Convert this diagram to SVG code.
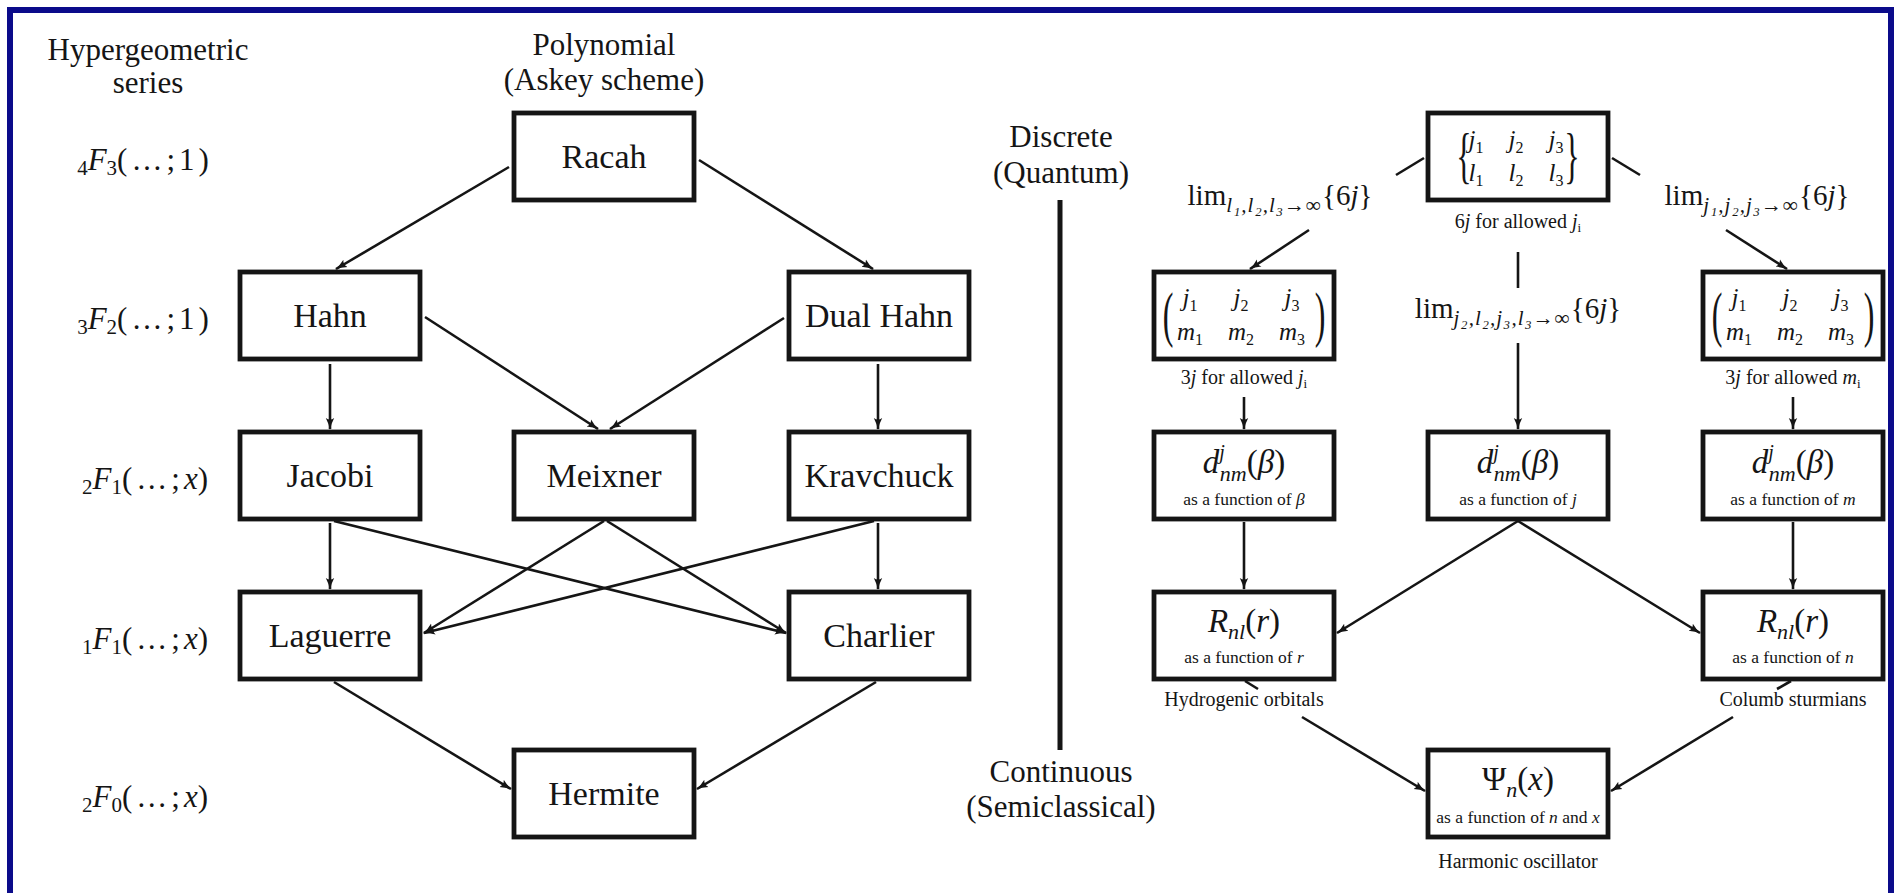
<svg xmlns="http://www.w3.org/2000/svg" width="1899" height="893" viewBox="0 0 1899 893">
<defs>
<style>
.t{font-family:"Liberation Serif","DejaVu Serif",serif;fill:#151515}
.hdr{font-size:31px}
.bl{font-size:34px}
.mx{font-size:25px}
.mid{font-size:20px}
.sm{font-size:17.5px}
.fm{font-size:33px}
.it{font-style:italic}
.box{fill:#fff;stroke:#151515;stroke-width:4.8}
.conn{stroke:#151515;stroke-width:2.6;fill:none}
.arr{marker-end:url(#ah)}
.lim{font-size:29px}
.limsub{font-size:21px;font-style:italic;letter-spacing:1px}
</style>
<marker id="ah" viewBox="0 0 12 10" refX="11" refY="5" markerWidth="12" markerHeight="10" markerUnits="userSpaceOnUse" orient="auto">
<path d="M0,0.8 Q6,4 12,5 Q6,6 0,9.2 Q3,5 0,0.8z" fill="#151515"/>
</marker>
</defs>
<rect width="1899" height="893" fill="#fff"/>
<path d="M10,893 V10 H1891 V893" fill="none" stroke="#0b0b8a" stroke-width="6"/>

<g id="headers" class="t hdr" text-anchor="middle">
<text x="148" y="60">Hypergeometric</text>
<text x="148" y="93">series</text>
<text x="604" y="55">Polynomial</text>
<text x="604" y="90">(Askey scheme)</text>
<text x="1061" y="147">Discrete</text>
<text x="1061" y="183">(Quantum)</text>
<text x="1061" y="782">Continuous</text>
<text x="1061" y="817">(Semiclassical)</text>
</g>

<g id="series-labels" class="t hdr" text-anchor="middle">
<text x="145" y="170"><tspan font-size="21" dy="5">4</tspan><tspan class="it" dy="-5">F</tspan><tspan font-size="21" dy="5">3</tspan><tspan dy="-5" letter-spacing="4">(…;1)</tspan></text>
<text x="145" y="329"><tspan font-size="21" dy="5">3</tspan><tspan class="it" dy="-5">F</tspan><tspan font-size="21" dy="5">2</tspan><tspan dy="-5" letter-spacing="4">(…;1)</tspan></text>
<text x="145" y="489"><tspan font-size="21" dy="5">2</tspan><tspan class="it" dy="-5">F</tspan><tspan font-size="21" dy="5">1</tspan><tspan dy="-5" letter-spacing="4">(…;</tspan><tspan class="it">x</tspan>)</text>
<text x="145" y="649"><tspan font-size="21" dy="5">1</tspan><tspan class="it" dy="-5">F</tspan><tspan font-size="21" dy="5">1</tspan><tspan dy="-5" letter-spacing="4">(…;</tspan><tspan class="it">x</tspan>)</text>
<text x="145" y="807"><tspan font-size="21" dy="5">2</tspan><tspan class="it" dy="-5">F</tspan><tspan font-size="21" dy="5">0</tspan><tspan dy="-5" letter-spacing="4">(…;</tspan><tspan class="it">x</tspan>)</text>
</g>

<path id="divider" d="M1060,200 V750" stroke="#151515" stroke-width="5"/>

<g id="connectors">
<path class="conn arr" d="M509,167 L336,269"/>
<path class="conn arr" d="M699,160 L873,269"/>
<path class="conn arr" d="M330,364 V429"/>
<path class="conn arr" d="M425,317 L598,429"/>
<path class="conn arr" d="M784,318 L610,429"/>
<path class="conn arr" d="M878,364 V429"/>
<path class="conn arr" d="M330,523 V589"/>
<path class="conn arr" d="M334,521 L786,633"/>
<path class="conn arr" d="M604,521 L424,633"/>
<path class="conn arr" d="M607,521 L786,633"/>
<path class="conn arr" d="M874,521 L424,633"/>
<path class="conn arr" d="M878,523 V589"/>
<path class="conn arr" d="M334,682 L511,789"/>
<path class="conn arr" d="M876,682 L697,789"/>
<path class="conn" d="M1424,158 L1396,175"/>
<path class="conn arr" d="M1309,230 L1250,269"/>
<path class="conn" d="M1612,158 L1640,175"/>
<path class="conn arr" d="M1726,230 L1787,269"/>
<path class="conn" d="M1518,252 V288"/>
<path class="conn arr" d="M1518,343 V429"/>
<path class="conn arr" d="M1244,397 V429"/>
<path class="conn arr" d="M1793,397 V429"/>
<path class="conn arr" d="M1244,522 V589"/>
<path class="conn arr" d="M1793,522 V589"/>
<path class="conn arr" d="M1518,521 L1337,633"/>
<path class="conn arr" d="M1518,521 L1700,633"/>
<path class="conn" d="M1245,681 L1258,689"/>
<path class="conn arr" d="M1302,717 L1425,791"/>
<path class="conn" d="M1791,681 L1777,689"/>
<path class="conn arr" d="M1733,717 L1611,791"/>
</g>

<g id="limit-labels" class="t" text-anchor="middle">
<text class="lim" x="1280" y="205">lim<tspan class="limsub" dy="7">l₁,l₂,l₃→∞</tspan><tspan dy="-7">{6<tspan class="it">j</tspan>}</tspan></text>
<text class="lim" x="1757" y="205">lim<tspan class="limsub" dy="7">j₁,j₂,j₃→∞</tspan><tspan dy="-7">{6<tspan class="it">j</tspan>}</tspan></text>
<text class="lim" x="1518" y="318">lim<tspan class="limsub" dy="7">j₂,l₂,j₃,l₃→∞</tspan><tspan dy="-7">{6<tspan class="it">j</tspan>}</tspan></text>
</g>

<g id="racah"><rect class="box" x="514" y="113" width="180" height="87"/><text class="t bl" x="604" y="168" text-anchor="middle">Racah</text></g>
<g id="hahn"><rect class="box" x="240" y="272" width="180" height="87"/><text class="t bl" x="330" y="327" text-anchor="middle">Hahn</text></g>
<g id="dual-hahn"><rect class="box" x="789" y="272" width="180" height="87"/><text class="t bl" x="879" y="327" text-anchor="middle">Dual Hahn</text></g>
<g id="jacobi"><rect class="box" x="240" y="432" width="180" height="87"/><text class="t bl" x="330" y="487" text-anchor="middle">Jacobi</text></g>
<g id="meixner"><rect class="box" x="514" y="432" width="180" height="87"/><text class="t bl" x="604" y="487" text-anchor="middle">Meixner</text></g>
<g id="kravchuck"><rect class="box" x="789" y="432" width="180" height="87"/><text class="t bl" x="879" y="487" text-anchor="middle">Kravchuck</text></g>
<g id="laguerre"><rect class="box" x="240" y="592" width="180" height="87"/><text class="t bl" x="330" y="647" text-anchor="middle">Laguerre</text></g>
<g id="charlier"><rect class="box" x="789" y="592" width="180" height="87"/><text class="t bl" x="879" y="647" text-anchor="middle">Charlier</text></g>
<g id="hermite"><rect class="box" x="514" y="750" width="180" height="87"/><text class="t bl" x="604" y="805" text-anchor="middle">Hermite</text></g>

<g id="sixj">
<rect class="box" x="1428" y="113" width="180" height="87"/>
<text class="t" font-size="40" text-anchor="middle" transform="translate(1464,176) scale(0.8,1.55)">{</text>
<text class="t" font-size="40" text-anchor="middle" transform="translate(1572,176) scale(0.8,1.55)">}</text>
<text class="t mx" y="148" text-anchor="middle"><tspan class="it" x="1476">j</tspan><tspan font-size="16" dy="5">1</tspan><tspan class="it" x="1516" dy="-5">j</tspan><tspan font-size="16" dy="5">2</tspan><tspan class="it" x="1556" dy="-5">j</tspan><tspan font-size="16" dy="5">3</tspan></text>
<text class="t mx" y="181" text-anchor="middle"><tspan class="it" x="1476">l</tspan><tspan font-size="16" dy="5">1</tspan><tspan class="it" x="1516" dy="-5">l</tspan><tspan font-size="16" dy="5">2</tspan><tspan class="it" x="1556" dy="-5">l</tspan><tspan font-size="16" dy="5">3</tspan></text>
<text class="t mid" x="1518" y="228" text-anchor="middle">6<tspan class="it">j</tspan> for allowed <tspan class="it">j</tspan><tspan font-size="13" dy="4">i</tspan></text>
</g>

<g id="threej-left">
<rect class="box" x="1154" y="272" width="180" height="87"/>
<text class="t" font-size="40" text-anchor="middle" transform="translate(1168,335) scale(0.8,1.55)">(</text>
<text class="t" font-size="40" text-anchor="middle" transform="translate(1320,335) scale(0.8,1.55)">)</text>
<text class="t mx" y="306" text-anchor="middle"><tspan class="it" x="1190">j</tspan><tspan font-size="16" dy="5">1</tspan><tspan class="it" x="1241" dy="-5">j</tspan><tspan font-size="16" dy="5">2</tspan><tspan class="it" x="1292" dy="-5">j</tspan><tspan font-size="16" dy="5">3</tspan></text>
<text class="t mx" y="340" text-anchor="middle"><tspan class="it" x="1190">m</tspan><tspan font-size="16" dy="5">1</tspan><tspan class="it" x="1241" dy="-5">m</tspan><tspan font-size="16" dy="5">2</tspan><tspan class="it" x="1292" dy="-5">m</tspan><tspan font-size="16" dy="5">3</tspan></text>
<text class="t mid" x="1244" y="384" text-anchor="middle">3<tspan class="it">j</tspan> for allowed <tspan class="it">j</tspan><tspan font-size="13" dy="4">i</tspan></text>
</g>

<g id="threej-right">
<rect class="box" x="1703" y="272" width="180" height="87"/>
<text class="t" font-size="40" text-anchor="middle" transform="translate(1717,335) scale(0.8,1.55)">(</text>
<text class="t" font-size="40" text-anchor="middle" transform="translate(1869,335) scale(0.8,1.55)">)</text>
<text class="t mx" y="306" text-anchor="middle"><tspan class="it" x="1739">j</tspan><tspan font-size="16" dy="5">1</tspan><tspan class="it" x="1790" dy="-5">j</tspan><tspan font-size="16" dy="5">2</tspan><tspan class="it" x="1841" dy="-5">j</tspan><tspan font-size="16" dy="5">3</tspan></text>
<text class="t mx" y="340" text-anchor="middle"><tspan class="it" x="1739">m</tspan><tspan font-size="16" dy="5">1</tspan><tspan class="it" x="1790" dy="-5">m</tspan><tspan font-size="16" dy="5">2</tspan><tspan class="it" x="1841" dy="-5">m</tspan><tspan font-size="16" dy="5">3</tspan></text>
<text class="t mid" x="1793" y="384" text-anchor="middle">3<tspan class="it">j</tspan> for allowed <tspan class="it">m</tspan><tspan font-size="13" dy="4">i</tspan></text>
</g>

<g id="d-beta">
<rect class="box" x="1154" y="432" width="180" height="87"/>
<text class="t fm" x="1244" y="473" text-anchor="middle"><tspan class="it">d</tspan><tspan class="it" font-size="20" dy="-14">j</tspan><tspan class="it" font-size="22" dx="-5" dy="22">nm</tspan><tspan dy="-8">(</tspan><tspan class="it">β</tspan>)</text>
<text class="t sm" x="1244" y="505" text-anchor="middle">as a function of <tspan class="it">β</tspan></text>
</g>
<g id="d-j">
<rect class="box" x="1428" y="432" width="180" height="87"/>
<text class="t fm" x="1518" y="473" text-anchor="middle"><tspan class="it">d</tspan><tspan class="it" font-size="20" dy="-14">j</tspan><tspan class="it" font-size="22" dx="-5" dy="22">nm</tspan><tspan dy="-8">(</tspan><tspan class="it">β</tspan>)</text>
<text class="t sm" x="1518" y="505" text-anchor="middle">as a function of <tspan class="it">j</tspan></text>
</g>
<g id="d-m">
<rect class="box" x="1703" y="432" width="180" height="87"/>
<text class="t fm" x="1793" y="473" text-anchor="middle"><tspan class="it">d</tspan><tspan class="it" font-size="20" dy="-14">j</tspan><tspan class="it" font-size="22" dx="-5" dy="22">nm</tspan><tspan dy="-8">(</tspan><tspan class="it">β</tspan>)</text>
<text class="t sm" x="1793" y="505" text-anchor="middle">as a function of <tspan class="it">m</tspan></text>
</g>

<g id="r-hydrogenic">
<rect class="box" x="1154" y="592" width="180" height="87"/>
<text class="t fm" x="1244" y="632" text-anchor="middle"><tspan class="it">R</tspan><tspan class="it" font-size="22" dy="7">nl</tspan><tspan dy="-7">(</tspan><tspan class="it">r</tspan>)</text>
<text class="t sm" x="1244" y="663" text-anchor="middle">as a function of <tspan class="it">r</tspan></text>
<text class="t mid" x="1244" y="706" text-anchor="middle">Hydrogenic orbitals</text>
</g>
<g id="r-sturmian">
<rect class="box" x="1703" y="592" width="180" height="87"/>
<text class="t fm" x="1793" y="632" text-anchor="middle"><tspan class="it">R</tspan><tspan class="it" font-size="22" dy="7">nl</tspan><tspan dy="-7">(</tspan><tspan class="it">r</tspan>)</text>
<text class="t sm" x="1793" y="663" text-anchor="middle">as a function of <tspan class="it">n</tspan></text>
<text class="t mid" x="1793" y="706" text-anchor="middle">Columb sturmians</text>
</g>
<g id="psi">
<rect class="box" x="1428" y="750" width="180" height="87"/>
<text class="t fm" x="1518" y="790" text-anchor="middle">Ψ<tspan class="it" font-size="22" dy="7">n</tspan><tspan dy="-7">(</tspan><tspan class="it">x</tspan>)</text>
<text class="t sm" x="1518" y="823" text-anchor="middle">as a function of <tspan class="it">n</tspan> and <tspan class="it">x</tspan></text>
<text class="t mid" x="1518" y="868" text-anchor="middle">Harmonic oscillator</text>
</g>
</svg>
